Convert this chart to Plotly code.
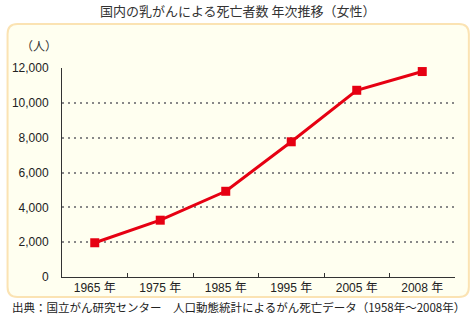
import plotly.graph_objects as go

years = ["1965 年", "1975 年", "1985 年", "1995 年", "2005 年", "2008 年"]
deaths = [1966, 3262, 4922, 7763, 10721, 11797]
yticks = [0, 2000, 4000, 6000, 8000, 10000, 12000]
ytick_labels = ["0", "2,000", "4,000", "6,000", "8,000", "10,000", "12,000"]

W, H = 472, 315
L, R, T, B = 58, 17, 68, 38
pw, ph = W - L - R, H - T - B

def px(x):
    return (x - L) / pw

def py(y):
    return (H - B - y) / ph

# rounded background box in pixel coords
x0, x1, y0, y1, r = 3, 469, 24, 297, 10
path = (
    f"M {px(x0 + r)},{py(y0)} L {px(x1 - r)},{py(y0)} "
    f"Q {px(x1)},{py(y0)} {px(x1)},{py(y0 + r)} "
    f"L {px(x1)},{py(y1 - r)} Q {px(x1)},{py(y1)} {px(x1 - r)},{py(y1)} "
    f"L {px(x0 + r)},{py(y1)} Q {px(x0)},{py(y1)} {px(x0)},{py(y1 - r)} "
    f"L {px(x0)},{py(y0 + r)} Q {px(x0)},{py(y0)} {px(x0 + r)},{py(y0)} Z"
)

font_main = "Liberation Sans, Noto Sans CJK JP, sans-serif"
font_jp = "Noto Sans CJK JP, sans-serif"

fig = go.Figure()
fig.add_trace(go.Scatter(
    x=years, y=deaths, mode="lines+markers",
    line=dict(color="#E60012", width=3),
    marker=dict(symbol="square", size=9, color="#E60012"),
    cliponaxis=False, hoverinfo="skip",
))

def ann(text, x, y, size, color="#333"):
    return dict(text=text, x=px(x), y=py(y), xref="paper", yref="paper",
                xanchor="center", yanchor="middle", showarrow=False,
                font=dict(family=font_jp, size=size, color=color))

fig.update_layout(
    width=W, height=H,
    margin=dict(l=L, r=R, t=T, b=B),
    paper_bgcolor="white",
    plot_bgcolor="rgba(0,0,0,0)",
    showlegend=False,
    shapes=[dict(type="path", xref="paper", yref="paper", path=path,
                 fillcolor="#FFFFF0", line=dict(color="#FBE3B3", width=2),
                 layer="below")],
    xaxis=dict(
        type="category", tickson="boundaries", ticks="inside", ticklen=4,
        tickcolor="#333333", showline=True, linecolor="#333333", linewidth=1,
        showgrid=False, tickfont=dict(family=font_main, size=12, color="#222"),
        range=[-0.5, 5.5],
    ),
    yaxis=dict(
        range=[0, 12000], tickvals=yticks, ticktext=ytick_labels,
        showline=True, linecolor="#333333", linewidth=1,
        showgrid=True, gridcolor="#888888", gridwidth=2, griddash="2px,4px",
        zeroline=False, ticks="", ticklabelstandoff=10,
        tickfont=dict(family=font_main, size=12, color="#222"),
    ),
    annotations=[
        ann("国内の乳がんによる死亡者数 年次推移（女性）", 236, 10, 13),
        ann("（人）", 35, 46, 12),
        ann("出典：国立がん研究センター　人口動態統計によるがん死亡データ（1958年～2008年）",
            236, 307, 11.5, "#222"),
    ],
)

fig.write_html("out.html")
